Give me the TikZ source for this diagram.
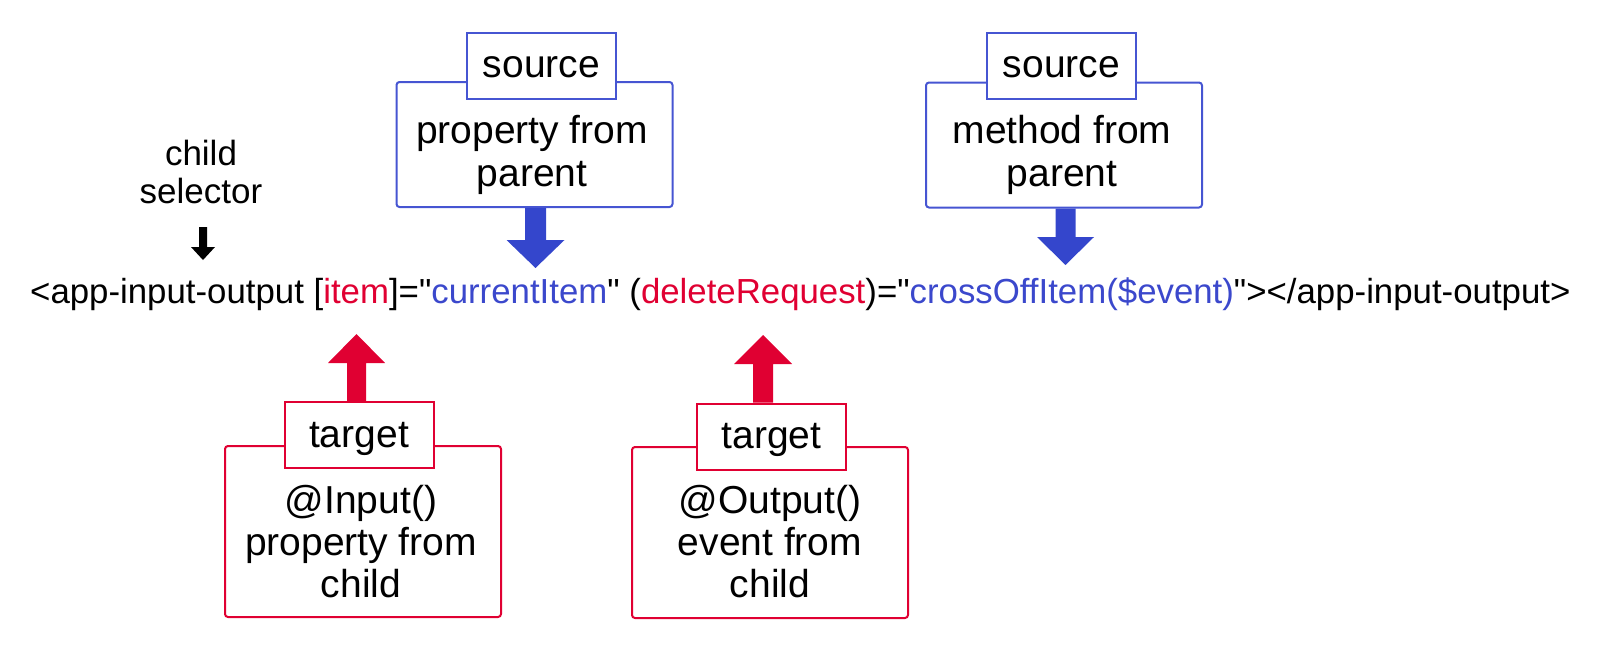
\documentclass[tikz,border=0pt]{standalone}
\usepackage{fontspec}
\setmainfont{Liberation Sans}[Ligatures=TeXOff]
\usetikzlibrary{calc}
\definecolor{cblue}{RGB}{59,72,204}
\definecolor{cbluebox}{RGB}{70,85,210}
\definecolor{cbluefill}{RGB}{52,70,204}
\definecolor{cred}{RGB}{224,0,50}
\newcommand{\blockarrow}[6]{%
  \fill[#6] ($(#1)+(-#3,0)$) -- ($(#2)+(-#3,#5)$) -- ($(#2)+(-#4,#5)$) -- (#2)
    -- ($(#2)+(#4,#5)$) -- ($(#2)+(#3,#5)$) -- ($(#1)+(#3,0)$) -- cycle;}
\tikzset{
  outerbox/.style={line width=2pt, rounded corners=3pt, fill=white, inner sep=0pt, minimum width=276pt},
  labelbox/.style={line width=2pt, fill=white, inner sep=0pt, minimum width=149pt, minimum height=66pt,
    text height=24pt, text depth=0pt, font=\fontsize{39}{43}\selectfont},
  srcb/.style={draw=cbluebox},
  tgtb/.style={draw=cred},
  bigtext/.style={font=\fontsize{39}{43}\selectfont, inner sep=0pt, anchor=base},
  smalltext/.style={font=\fontsize{35}{38}\selectfont, inner sep=0pt, anchor=base},
  codetext/.style={font=\fontsize{34.8}{40}\selectfont, inner sep=0pt, anchor=base west},
}
\begin{document}
\begin{tikzpicture}[x=1pt,y=-1pt]
\useasboundingbox (0,0) rectangle (1620,648);

% main code line
\node[codetext] (code) at (30,303) {<app-input-output [\textcolor{cred}{item}]="\textcolor{cblue}{currentItem}" (\textcolor{cred}{deleteRequest})="\textcolor{cblue}{crossOffItem(\$event)}"></app-input-output>};

% child selector
\node[smalltext] (cs1) at (201,165) {child};
\node[smalltext] (cs2) at (201,203) {selector};
\coordinate (csTop) at (203,227);
\coordinate (csTip) at (203,260);
\blockarrow{csTop}{csTip}{4}{12}{-13}{black}

% source 1
\node[outerbox, srcb, minimum height=125pt] (s1box) at (534.5,144.5) {};
\node[labelbox, srcb] (s1lab) at (541.5,65.5) {source};
\node[bigtext] (s1t1) at (532,143) {property from};
\node[bigtext] (s1t2) at (532,186) {parent};
\coordinate (s1tip) at (535.5,268);
\coordinate (s1start) at (s1box.south -| s1tip);
\blockarrow{s1start}{s1tip}{10.5}{29}{-28}{cbluefill}

% source 2
\node[outerbox, srcb, minimum height=125pt] (s2box) at (1064,145) {};
\node[labelbox, srcb] (s2lab) at (1061.5,65.5) {source};
\node[bigtext] (s2t1) at (1062,143) {method from};
\node[bigtext] (s2t2) at (1062,186) {parent};
\coordinate (s2tip) at (1065.5,265);
\coordinate (s2start) at (s2box.south -| s2tip);
\blockarrow{s2start}{s2tip}{10}{28.5}{-28}{cbluefill}

% target 1
\node[outerbox, tgtb, minimum height=171pt] (t1box) at (363,531.5) {};
\node[labelbox, tgtb] (t1lab) at (359,435) {target};
\node[bigtext] (t1t1) at (361,513) {@Input()};
\node[bigtext] (t1t2) at (361,555) {property from};
\node[bigtext] (t1t3) at (361,597) {child};
\coordinate (t1tip) at (356.5,334);
\coordinate (t1start) at (t1lab.north -| t1tip);
\blockarrow{t1start}{t1tip}{9.5}{28.5}{29}{cred}

% target 2
\node[outerbox, tgtb, minimum height=171pt] (t2box) at (770,532.5) {};
\node[labelbox, tgtb] (t2lab) at (771.5,436.5) {target};
\node[bigtext] (t2t1) at (770,513) {@Output()};
\node[bigtext] (t2t2) at (770,555) {event from};
\node[bigtext] (t2t3) at (770,597) {child};
\coordinate (t2tip) at (763,335);
\coordinate (t2start) at (t2lab.north -| t2tip);
\blockarrow{t2start}{t2tip}{10}{29}{29}{cred}
\end{tikzpicture}
\end{document}
